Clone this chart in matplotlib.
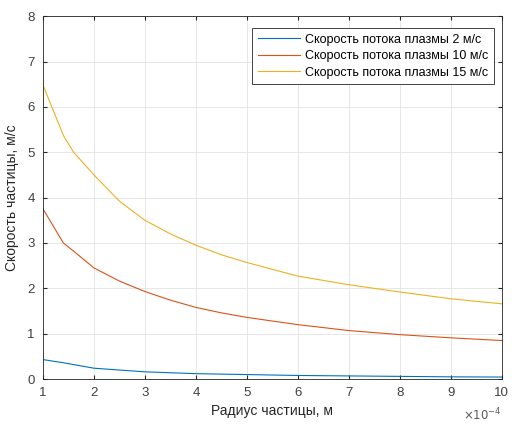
import matplotlib.pyplot as plt

plt.rcParams['font.family'] = ['Liberation Sans', 'DejaVu Sans']

# radius, in units of 1e-4 m
radius = [1, 1.4, 1.6, 2, 2.5, 3, 3.5, 4, 4.5, 5, 6, 7, 8, 9, 10]
v2 = [0.43, 0.36, 0.32, 0.24, 0.20, 0.16, 0.14, 0.12, 0.11, 0.10, 0.08, 0.07, 0.06, 0.05, 0.045]
v10 = [3.75, 3.0, 2.82, 2.45, 2.16, 1.93, 1.74, 1.58, 1.46, 1.36, 1.2, 1.07, 0.98, 0.91, 0.85]
v15 = [6.48, 5.37, 5.0, 4.5, 3.92, 3.5, 3.2, 2.95, 2.74, 2.57, 2.27, 2.08, 1.92, 1.77, 1.66]
labels = ['Скорость потока плазмы 2 м/с',
          'Скорость потока плазмы 10 м/с',
          'Скорость потока плазмы 15 м/с']

fig = plt.figure(figsize=(5.12, 4.25), dpi=100)
ax = fig.add_axes([0.084, 0.108, 0.896, 0.854])

ax.plot(radius, v2, color=(0, 0.447, 0.741), lw=0.8, label=labels[0])
ax.plot(radius, v10, color=(0.85, 0.325, 0.098), lw=0.8, label=labels[1])
ax.plot(radius, v15, color=(0.929, 0.694, 0.125), lw=0.8, label=labels[2])

ax.set_xlim(1, 10)
ax.set_ylim(0, 8)
ax.set_xticks(range(1, 11))
ax.set_yticks(range(0, 9))
ax.grid(True, color='#e3e3e3', lw=0.6)
ax.tick_params(direction='in', top=True, right=True, labelsize=9.5,
               labelcolor='#404040', color='#262626', length=3, pad=6)
for s in ax.spines.values():
    s.set_color('#262626')
    s.set_linewidth(0.6)

ax.set_xlabel('Радиус частицы, м', fontsize=10, color='#262626', labelpad=3)
ax.set_ylabel('Скорость частицы, м/с', fontsize=10, color='#262626', labelpad=6)
ax.text(1.0, -0.075, r'$\times10^{-4}$', transform=ax.transAxes,
        ha='right', va='top', fontsize=8.5, color='#595959')

leg = ax.legend(loc='upper right', fontsize=9, fancybox=False,
                framealpha=1, edgecolor='#262626', borderpad=0.45,
                borderaxespad=0, handlelength=3.4, handletextpad=0.4,
                labelspacing=0.35, bbox_to_anchor=(0.983, 0.967))
leg.get_frame().set_linewidth(0.6)

fig.savefig('out.png', dpi=100)
